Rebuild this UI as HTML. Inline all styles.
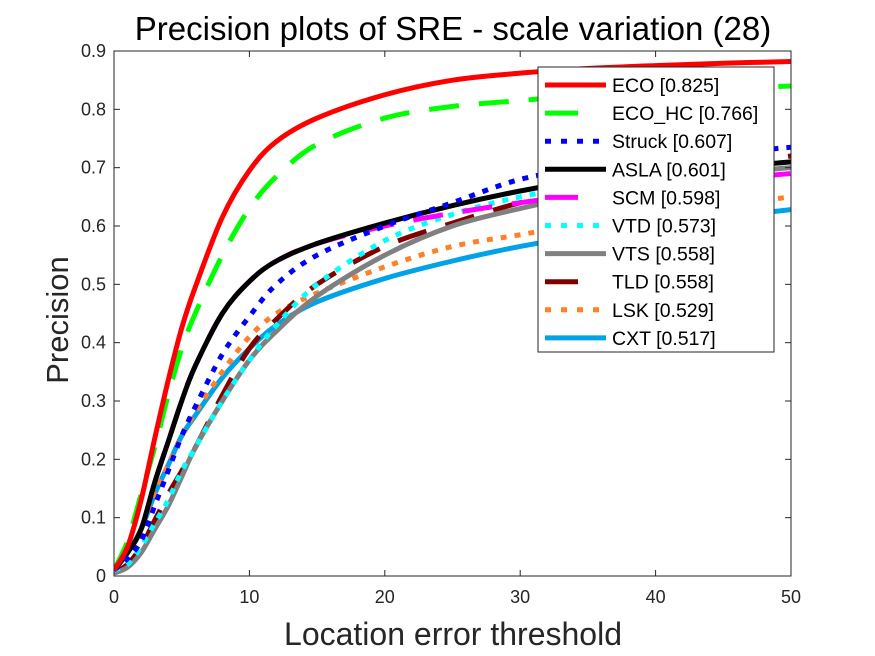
<!DOCTYPE html>
<html><head><meta charset="utf-8"><style>
body{margin:0;background:#fff;}
svg{display:block;font-family:"Liberation Sans",sans-serif;}
</style></head><body>
<svg id="chart" width="875" height="656" viewBox="0 0 875 656"></svg>
<script>
const thresholds=[0,1,2,3,4,5,6,8,10,12,15,20,25,30,35,40,45,50];
const ecoVals=[.01,.05,.13,.235,.335,.425,.495,.615,.695,.745,.785,.825,.85,.862,.87,.875,.879,.882];
const ecoHcVals=[.01,.06,.14,.22,.31,.39,.45,.55,.63,.685,.74,.785,.805,.815,.825,.83,.835,.84];
const struckVals=[.01,.03,.06,.12,.18,.24,.29,.38,.445,.50,.55,.60,.64,.68,.70,.715,.725,.735];
const aslaVals=[.01,.04,.08,.16,.23,.30,.36,.45,.505,.54,.57,.605,.635,.66,.68,.69,.70,.71];
const scmVals=[.01,.04,.08,.16,.23,.30,.36,.45,.505,.54,.57,.60,.622,.64,.655,.67,.68,.69];
const vtdVals=[.01,.02,.05,.09,.13,.18,.22,.30,.37,.43,.50,.575,.62,.65,.67,.69,.70,.71];
const vtsVals=[.005,.015,.04,.08,.12,.17,.22,.30,.37,.42,.48,.55,.60,.63,.655,.675,.69,.70];
const tldVals=[.005,.02,.05,.095,.14,.18,.22,.31,.39,.44,.50,.565,.605,.64,.665,.685,.70,.72];
const lskVals=[.01,.03,.08,.14,.19,.24,.28,.35,.41,.45,.485,.53,.565,.585,.605,.62,.635,.65];
const cxtVals=[.01,.04,.08,.14,.19,.24,.275,.34,.39,.43,.47,.51,.54,.565,.585,.60,.615,.628];
const seriesNames=["ECO [0.825]","ECO_HC [0.766]","Struck [0.607]","ASLA [0.601]","SCM [0.598]","VTD [0.573]","VTS [0.558]","TLD [0.558]","LSK [0.529]","CXT [0.517]"];
const xTicks=[0,10,20,30,40,50];
const yTicks=[0,0.1,0.2,0.3,0.4,0.5,0.6,0.7,0.8,0.9];

const allVals=[ecoVals,ecoHcVals,struckVals,aslaVals,scmVals,vtdVals,vtsVals,tldVals,lskVals,cxtVals];
const colors=["#ff0000","#00ff00","#0000ff","#000000","#ff00ff","#00ffff","#808080","#800000","#ff8028","#00a2e8"];
const dashes=["","30,20","6,8","","30,20","6,8","","30,20","6,8",""];
const keys=["eco","eco-hc","struck","asla","scm","vtd","vts","tld","lsk","cxt"];
const L=114,R=791,T=51,B=576;
const sx=v=>L+(v/50)*(R-L);
const sy=v=>B-(v/0.9)*(B-T);
const NS="http://www.w3.org/2000/svg";
const svg=document.getElementById('chart');
function mk(tag,attrs,parent){const e=document.createElementNS(NS,tag);for(const k in attrs)e.setAttribute(k,attrs[k]);(parent||svg).appendChild(e);return e;}

const title=mk('text',{x:453,y:40,'text-anchor':'middle','font-size':33,fill:'#000'});
title.textContent="Precision plots of SRE - scale variation (28)";



const clip=mk('clipPath',{id:'pc'});mk('rect',{x:L,y:T,width:R-L,height:B-T},clip);
const g=mk('g',{'clip-path':'url(#pc)'});


function pathFor(vals){
  const p=thresholds.map((t,i)=>[sx(t),sy(vals[i])]);
  let d=`M${p[0][0]},${p[0][1]}`;
  for(let i=0;i<p.length-1;i++){
    const p0=p[i-1]||p[i],p1=p[i],p2=p[i+1],p3=p[i+2]||p2;
    const c1=[p1[0]+(p2[0]-p0[0])/6,p1[1]+(p2[1]-p0[1])/6];
    const c2=[p2[0]-(p3[0]-p1[0])/6,p2[1]-(p3[1]-p1[1])/6];
    d+=` C${c1[0]},${c1[1]} ${c2[0]},${c2[1]} ${p2[0]},${p2[1]}`;
  }
  return d;
}
for(let i=allVals.length-1;i>=0;i--){
  const a={d:pathFor(allVals[i]),fill:'none',stroke:colors[i],'stroke-width':5};
  if(dashes[i])a['stroke-dasharray']=dashes[i];
  const p=mk('path',a,g);
  
  
}

const ax=mk('rect',{x:L,y:T,width:R-L,height:B-T,fill:'none',stroke:'#262626','stroke-width':1});


xTicks.forEach(t=>{
  const x=sx(t);
  mk('line',{x1:x,y1:B,x2:x,y2:B-6,stroke:'#262626'});
  mk('line',{x1:x,y1:T,x2:x,y2:T+6,stroke:'#262626'});
  const tx=mk('text',{x:x,y:B+27,'text-anchor':'middle','font-size':18,fill:'#262626'});
  tx.textContent=t;
  
  
});
yTicks.forEach(t=>{
  const y=sy(t);
  mk('line',{x1:L,y1:y,x2:L+6,y2:y,stroke:'#262626'});
  mk('line',{x1:R,y1:y,x2:R-6,y2:y,stroke:'#262626'});
  const tx=mk('text',{x:L-8,y:y+6,'text-anchor':'end','font-size':18,fill:'#262626'});
  tx.textContent=t===0?'0':t.toFixed(1);
  
  
});
const xl=mk('text',{x:453,y:645,'text-anchor':'middle','font-size':32,fill:'#262626'});
xl.textContent="Location error threshold";


const yl=mk('text',{x:0,y:0,'text-anchor':'middle','font-size':31,fill:'#262626',transform:'translate(68,320) rotate(-90)'});
yl.textContent="Precision";



const lg=mk('g',{});


mk('rect',{x:538,y:67,width:236,height:285,fill:'#fff',stroke:'#262626','stroke-width':1},lg);
seriesNames.forEach((n,i)=>{
  const y=85+i*28.1;
  const a={x1:545,y1:y,x2:606,y2:y,stroke:colors[i],'stroke-width':5};
  if(dashes[i])a['stroke-dasharray']=dashes[i]==="30,20"?"33,40":"6,10";
  const ln=mk('line',a,lg);
  
  
  const tx=mk('text',{x:612,y:y+7,'font-size':19.5,fill:'#000'},lg);
  tx.textContent=n;
  
  
});
</script>
</body></html>
